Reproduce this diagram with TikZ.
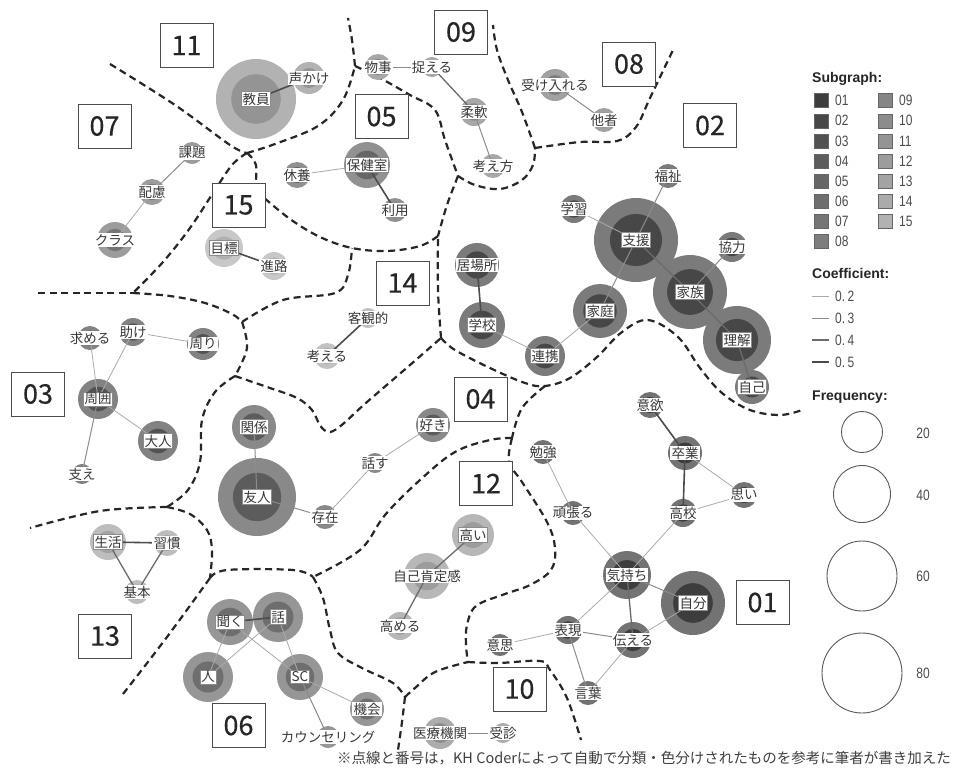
\documentclass[tikz,border=0pt]{standalone}
\usepackage{fontspec}
\setmainfont{Liberation Sans}
\newfontfamily\cjk{Noto Sans CJK JP}
\newfontfamily\numfont[FakeBold=0.4]{Noto Sans CJK JP}
\newfontfamily\narrowf[FakeStretch=0.8]{Liberation Sans}
\pgfdeclarelayer{bgl}
\pgfdeclarelayer{dash}
\pgfdeclarelayer{circ}
\pgfdeclarelayer{lab}
\pgfsetlayers{bgl,dash,circ,main,lab}
\definecolor{sg1}{gray}{0.24}
\definecolor{sg2}{gray}{0.28}
\definecolor{sg3}{gray}{0.32}
\definecolor{sg4}{gray}{0.36}
\definecolor{sg5}{gray}{0.40}
\definecolor{sg6}{gray}{0.43}
\definecolor{sg7}{gray}{0.46}
\definecolor{sg8}{gray}{0.49}
\definecolor{sg9}{gray}{0.52}
\definecolor{sg10}{gray}{0.55}
\definecolor{sg11}{gray}{0.58}
\definecolor{sg12}{gray}{0.61}
\definecolor{sg13}{gray}{0.64}
\definecolor{sg14}{gray}{0.67}
\definecolor{sg15}{gray}{0.70}
\tikzset{
  lbl/.style={font=\cjk\fontsize{13.5}{14}\selectfont, text=black!78, fill=white, inner sep=1.2pt},
  boxed/.style={draw=black!45, line width=0.5pt},
  e2/.style={draw=black!33, line width=0.8pt},
  e3/.style={draw=black!45, line width=1.0pt},
  e4/.style={draw=black!58, line width=1.3pt},
  e5/.style={draw=black!70, line width=1.6pt},
  dline/.style={draw=black!85, line width=2.2pt, dash pattern=on 7pt off 4.5pt},
  numbox/.style={draw=black!70, line width=0.8pt, fill=white, minimum width=53pt, minimum height=44pt, inner sep=0pt, font=\numfont\fontsize{27}{27}\selectfont, text=black!85},
  sq/.style={minimum size=14pt, inner sep=0pt, draw=black!60, line width=0.5pt},
  legh/.style={font=\bfseries\fontsize{14}{14}\selectfont, text=black!85, anchor=west, inner sep=0pt},
  legt/.style={font=\narrowf\fontsize{15}{15}\selectfont, text=black!70, anchor=west, inner sep=0pt},
  fcirc/.style={circle, draw=black!65, line width=0.9pt, inner sep=0pt}
}
\newcommand\kw[7][]{%
  \begin{pgfonlayer}{circ}
    \node[circle, inner sep=0pt, minimum size=#5*2pt, fill=#6!72!white] (#2) at (#3,#4) {};
    \fill[#6] (#2.center) circle[radius=#5*0.62pt];
  \end{pgfonlayer}
  \begin{pgfonlayer}{lab}
    \node[lbl,#1] (#2-t) at (#3,#4) {#7};
  \end{pgfonlayer}}
\begin{document}
\begin{tikzpicture}[x=1pt,y=-1pt]
\begin{pgfonlayer}{bgl}
\fill[white] (0,0) rectangle (956,769);
\end{pgfonlayer}
\useasboundingbox (0,0) rectangle (956,769);

% ---------- junctions of the dashed lines ----------
\coordinate (J1) at (247,153);
\coordinate (J14) at (355,66);
\coordinate (J13) at (458,176);
\coordinate (J12) at (535,148);
\coordinate (J15) at (438,236);
\coordinate (J3) at (352,248);
\coordinate (J2) at (242,322);
\coordinate (J16) at (133,293);
\coordinate (J4) at (441,338);
\coordinate (J5) at (235,376);
\coordinate (J10) at (545,386);
\coordinate (J11) at (512,438);
\coordinate (J6) at (167,507);
\coordinate (J7) at (210,578);
\coordinate (J8) at (313,577);
\coordinate (J17) at (468,662);
\coordinate (J9) at (405,697);

\begin{pgfonlayer}{dash}
\draw[dline] plot[smooth,tension=0.6] coordinates {(110,64) (175,105) (230,145) (J1)};
\draw[dline] plot[smooth,tension=0.6] coordinates {(J1) (275,144) (318,126) (343,100) (J14)};
\draw[dline] plot[smooth,tension=0.6] coordinates {(J14) (352,40) (348,18)};
\draw[dline] plot[smooth,tension=0.6] coordinates {(J14) (380,78) (410,95) (435,110) (445,140) (J13)};
\draw[dline] plot[smooth,tension=0.6] coordinates {(J13) (475,185) (500,189) (522,180) (533,165) (J12)};
\draw[dline] plot[smooth,tension=0.6] coordinates {(J12) (522,112) (508,80) (497,50) (493,25)};
\draw[dline] plot[smooth,tension=0.6] coordinates {(J12) (580,142) (617,141) (636,127) (650,98) (673,50)};
\draw[dline] plot[smooth,tension=0.6] coordinates {(J13) (447,205) (J15)};
\draw[dline] plot[smooth,tension=0.6] coordinates {(J15) (420,246) (387,251) (J3) (320,237) (290,219) (262,196)};
\draw[dline] plot[smooth,tension=0.6] coordinates {(J1) (256,165) (255,190)};
\draw[dline] plot[smooth,tension=0.6] coordinates {(J1) (232,165) (213,193) (190,228) (163,262) (J16)};
\draw[dline] (38,293) -- (J16);
\draw[dline] plot[smooth,tension=0.6] coordinates {(J16) (170,296) (205,303) (232,314) (J2)};
\draw[dline] plot[smooth,tension=0.6] coordinates {(J2) (283,300) (335,293) (348,275) (J3)};
\draw[dline] plot[smooth,tension=0.6] coordinates {(J2) (247,348) (J5)};
\draw[dline] plot[smooth,tension=0.6] coordinates {(J5) (270,388) (297,398) (312,410) (322,428) (335,430) (367,402) (410,365) (J4)};
\draw[dline] plot[smooth,tension=0.6] coordinates {(J4) (438,290) (J15)};
\draw[dline] plot[smooth,tension=0.6] coordinates {(J4) (455,350) (490,368) (525,383) (J10) (570,378) (597,357) (622,332) (648,320) (678,337) (700,368) (722,393) (750,410) (780,415) (802,410)};
\draw[dline] plot[smooth,tension=0.6] coordinates {(J10) (522,408) (J11)};
\draw[dline] plot[smooth,tension=0.6] coordinates {(J11) (509,462) (522,482) (547,522) (555,548) (551,570) (530,585) (505,594) (476,606) (467,625) (466,645) (J17)};
\draw[dline] plot[smooth,tension=0.6] coordinates {(J11) (490,440) (455,452) (420,480) (385,515) (360,550) (J8)};
\draw[dline] plot[smooth,tension=0.6] coordinates {(J5) (215,392) (202,420) (200,462) (188,490) (J6)};
\draw[dline] plot[smooth,tension=0.6] coordinates {(J6) (100,511) (30,528)};
\draw[dline] plot[smooth,tension=0.6] coordinates {(J6) (190,514) (207,530) (212,550) (J7)};
\draw[dline] plot[smooth,tension=0.6] coordinates {(J7) (167,637) (123,694)};
\draw[dline] plot[smooth,tension=0.6] coordinates {(J7) (227,570) (293,570) (J8)};
\draw[dline] plot[smooth,tension=0.6] coordinates {(J8) (323,598) (330,630) (338,653) (362,668) (393,683) (J9)};
\draw[dline] plot[smooth,tension=0.6] coordinates {(J9) (402,722) (398,750)};
\draw[dline] plot[smooth,tension=0.6] coordinates {(J9) (415,688) (435,672) (J17)};
\draw[dline] plot[smooth,tension=0.6] coordinates {(J17) (498,663) (540,661) (550,670) (567,698) (581,740)};
\end{pgfonlayer}

% ---------- number boxes ----------
\begin{pgfonlayer}{lab}
\node[numbox] (b11) at (186.5,45.5) {11};
\node[numbox] (b07) at (104.5,126) {07};
\node[numbox] (b05) at (381.5,116.5) {05};
\node[numbox] (b15) at (238.5,205) {15};
\node[numbox] (b09) at (461,32) {09};
\node[numbox] (b08) at (629,64) {08};
\node[numbox] (b02) at (710,125.5) {02};
\node[numbox] (b14) at (402.5,283) {14};
\node[numbox] (b03) at (38,394) {03};
\node[numbox] (b04) at (480.5,399) {04};
\node[numbox] (b12) at (486,483.5) {12};
\node[numbox] (b13) at (105,636) {13};
\node[numbox] (b06) at (238.5,725.5) {06};
\node[numbox] (b10) at (519.5,689) {10};
\node[numbox] (b01) at (762.5,602.5) {01};
\end{pgfonlayer}

% ---------- word nodes ----------
\kw[boxed]{kyoin}{256}{99}{40}{sg11}{教員}
\kw{koekake}{309}{78}{16}{sg11}{声かけ}
\kw{monogoto}{378}{67}{13}{sg9}{物事}
\kw{toraeru}{432}{67}{10}{sg9}{捉える}
\kw{junan}{474}{112}{14}{sg9}{柔軟}
\kw{kangaekata}{493}{166}{12}{sg9}{考え方}
\kw{ukeireru}{555}{85}{16}{sg8}{受け入れる}
\kw{tasha}{604}{120}{12}{sg8}{他者}
\kw[boxed]{hokenshitsu}{367}{165}{23}{sg5}{保健室}
\kw{kyuyo}{297}{175}{13}{sg5}{休養}
\kw{riyo}{395}{210}{12}{sg5}{利用}
\kw{kadai}{192}{153}{11}{sg7}{課題}
\kw{hairyo}{152}{192}{13}{sg7}{配慮}
\kw{kurasu}{115}{240}{18}{sg7}{クラス}
\kw[boxed]{mokuhyo}{224}{248}{19}{sg15}{目標}
\kw{shinro}{274}{266}{14}{sg15}{進路}
\kw{kyakkan}{368}{318}{10}{sg14}{客観的}
\kw{kangaeru}{327}{356}{13}{sg14}{考える}
\kw{fukushi}{668}{176}{12}{sg2}{福祉}
\kw{gakushu}{574}{209}{14}{sg2}{学習}
\kw[boxed]{shien}{636}{240}{42}{sg2}{支援}
\kw{kyoryoku}{732}{247}{15}{sg2}{協力}
\kw[boxed]{kazoku}{690}{292}{37}{sg2}{家族}
\kw[boxed]{rikai}{737}{340}{34}{sg2}{理解}
\kw[boxed]{katei}{600}{311}{27}{sg2}{家庭}
\kw{ibasho}{477}{265}{22}{sg2}{居場所}
\kw[boxed]{gakko}{482}{325}{23}{sg2}{学校}
\kw[boxed]{renkei}{545}{356}{20}{sg2}{連携}
\kw[boxed]{jiko}{752}{387}{17}{sg2}{自己}
\kw{motomeru}{90}{338}{12}{sg3}{求める}
\kw{tasuke}{133}{332}{14}{sg3}{助け}
\kw{mawari}{203}{344}{16}{sg3}{周り}
\kw[boxed]{shui}{98}{399}{20}{sg3}{周囲}
\kw[boxed]{otona}{158}{441}{20}{sg3}{大人}
\kw{sasae}{82}{474}{10}{sg3}{支え}
\kw[boxed]{kankei}{254}{427}{22}{sg4}{関係}
\kw[boxed]{yujin}{257}{497}{39}{sg4}{友人}
\kw{sonzai}{325}{517}{12}{sg4}{存在}
\kw{hanasu}{375}{463}{10}{sg4}{話す}
\kw{suki}{433}{425}{17}{sg4}{好き}
\kw[boxed]{takai}{473}{535}{21}{sg12}{高い}
\kw{jikokotei}{427}{576}{23}{sg12}{自己肯定感}
\kw{takameru}{400}{626}{14}{sg12}{高める}
\kw[boxed]{seikatsu}{108}{542}{18}{sg13}{生活}
\kw{shukan}{167}{543}{13}{sg13}{習慣}
\kw{kihon}{137}{592}{12}{sg13}{基本}
\kw[boxed]{kiku}{230}{622}{23}{sg6}{聞く}
\kw[boxed]{hanashi}{278}{617}{25}{sg6}{話}
\kw[boxed]{hito}{208}{677}{25}{sg6}{人}
\kw[boxed]{sc}{300}{677}{23}{sg6}{SC}
\kw{kikai}{367}{709}{17}{sg6}{機会}
\kw{counsel}{328}{737}{11}{sg6}{カウンセリング}
\kw{iryo}{440}{733}{16}{sg10}{医療機関}
\kw{jushin}{503}{733}{10}{sg10}{受診}
\kw{iyoku}{650}{405}{13}{sg1}{意欲}
\kw{sotsugyo}{685}{453}{17}{sg1}{卒業}
\kw{omoi}{744}{495}{13}{sg1}{思い}
\kw{benkyo}{543}{452}{12}{sg1}{勉強}
\kw{ganbaru}{573}{513}{12}{sg1}{頑張る}
\kw{koko}{683}{513}{14}{sg1}{高校}
\kw{kimochi}{627}{575}{24}{sg1}{気持ち}
\kw[boxed]{jibun}{693}{603}{32}{sg1}{自分}
\kw{hyogen}{568}{630}{14}{sg1}{表現}
\kw{tsutaeru}{633}{640}{18}{sg1}{伝える}
\kw{ishi}{500}{645}{11}{sg1}{意思}
\kw{kotoba}{588}{693}{12}{sg1}{言葉}

% ---------- connectors ----------
\draw[e5] (kyoin.center) -- (koekake.center);
\draw[e3] (monogoto.center) -- (toraeru.center);
\draw[e4] (toraeru.center) -- (junan.center);
\draw[e3] (junan.center) -- (kangaekata.center);
\draw[e3] (ukeireru.center) -- (tasha.center);
\draw[e2] (kyuyo.center) -- (hokenshitsu.center);
\draw[e5] (hokenshitsu.center) -- (riyo.center);
\draw[e3] (kadai.center) -- (hairyo.center);
\draw[e2] (hairyo.center) -- (kurasu.center);
\draw[e5] (mokuhyo.center) -- (shinro.center);
\draw[e5] (kyakkan.center) -- (kangaeru.center);
\draw[e2] (gakushu.center) -- (shien.center);
\draw[e3] (fukushi.center) -- (shien.center);
\draw[e4] (shien.center) -- (kazoku.center);
\draw[e3] (shien.center) -- (katei.center);
\draw[e3] (kyoryoku.center) -- (kazoku.center);
\draw[e4] (kazoku.center) -- (rikai.center);
\draw[e4] (rikai.center) -- (jiko.center);
\draw[e2] (katei.center) -- (renkei.center);
\draw[e2] (renkei.center) -- (gakko.center);
\draw[e5] (gakko.center) -- (ibasho.center);
\draw[e2] (motomeru.center) -- (shui.center);
\draw[e2] (tasuke.center) -- (shui.center);
\draw[e2] (tasuke.center) -- (mawari.center);
\draw[e2] (shui.center) -- (otona.center);
\draw[e3] (shui.center) -- (sasae.center);
\draw[e3] (kankei.center) -- (yujin.center);
\draw[e3] (yujin.center) -- (sonzai.center);
\draw[e2] (sonzai.center) -- (hanasu.center);
\draw[e2] (hanasu.center) -- (suki.center);
\draw[e4] (takai.center) -- (jikokotei.center);
\draw[e4] (jikokotei.center) -- (takameru.center);
\draw[e5] (seikatsu.center) -- (shukan.center);
\draw[e4] (seikatsu.center) -- (kihon.center);
\draw[e4] (shukan.center) -- (kihon.center);
\draw[e5] (kiku.center) -- (hanashi.center);
\draw[e2] (kiku.center) -- (hito.center);
\draw[e2] (kiku.center) -- (sc.center);
\draw[e2] (hanashi.center) -- (hito.center);
\draw[e2] (hanashi.center) -- (sc.center);
\draw[e2] (sc.center) -- (kikai.center);
\draw[e3] (sc.center) -- (counsel.center);
\draw[e3] (iryo.center) -- (jushin.center);
\draw[e5] (iyoku.center) -- (sotsugyo.center);
\draw[e5] (sotsugyo.center) -- (koko.center);
\draw[e2] (sotsugyo.center) -- (omoi.center);
\draw[e2] (omoi.center) -- (koko.center);
\draw[e2] (benkyo.center) -- (ganbaru.center);
\draw[e2] (ganbaru.center) -- (kimochi.center);
\draw[e2] (koko.center) -- (kimochi.center);
\draw[e3] (kimochi.center) -- (jibun.center);
\draw[e4] (kimochi.center) -- (tsutaeru.center);
\draw[e2] (kimochi.center) -- (hyogen.center);
\draw[e2] (jibun.center) -- (tsutaeru.center);
\draw[e3] (hyogen.center) -- (tsutaeru.center);
\draw[e2] (hyogen.center) -- (ishi.center);
\draw[e3] (hyogen.center) -- (kotoba.center);
\draw[e2] (tsutaeru.center) -- (kotoba.center);

% ---------- legend ----------
\node[legh] (lsub) at (812,79) {Subgraph:};
\foreach \k in {1,...,8} {
  \node[sq, fill=sg\k] (s\k) at (821,100.7+20.1*\k-20.1) {};
  \node[legt] (st\k) at (835,100.7+20.1*\k-20.1) {0\k};
}
\foreach \k/\lab in {9/09,10/10,11/11,12/12,13/13,14/14,15/15} {
  \node[sq, fill=sg\k] (s\k) at (885,100.7+20.1*\k-180.9) {};
  \node[legt] (st\k) at (899,100.7+20.1*\k-180.9) {\lab};
}
\node[legh] (lcoef) at (812,273) {Coefficient:};
\coordinate (ca2) at (812,296); \coordinate (cb2) at (829,296);
\coordinate (ca3) at (812,318); \coordinate (cb3) at (829,318);
\coordinate (ca4) at (812,340); \coordinate (cb4) at (829,340);
\coordinate (ca5) at (812,362); \coordinate (cb5) at (829,362);
\draw[e2] (ca2) -- (cb2); \node[legt] (c2) at (835,296) {0.\,2};
\draw[e3] (ca3) -- (cb3); \node[legt] (c3) at (835,318) {0.\,3};
\draw[e4] (ca4) -- (cb4); \node[legt] (c4) at (835,340) {0.\,4};
\draw[e5] (ca5) -- (cb5); \node[legt] (c5) at (835,362) {0.\,5};
\node[legh] (lfreq) at (812,397) {Frequency:};
\node[fcirc, minimum size=41pt] (f20) at (862,432) {};
\node[fcirc, minimum size=57pt] (f40) at (862,494) {};
\node[fcirc, minimum size=70pt] (f60) at (862,576) {};
\node[fcirc, minimum size=80pt] (f80) at (862,673) {};
\node[legt, anchor=center] (ft20) at (923,433) {20};
\node[legt, anchor=center] (ft40) at (923,495) {40};
\node[legt, anchor=center] (ft60) at (923,576) {60};
\node[legt, anchor=center] (ft80) at (923,673) {80};

% ---------- footnote ----------
\node[anchor=east, inner sep=0pt, font=\cjk\fontsize{14.5}{15}\selectfont, text=black!75] (note) at (951,758) {※点線と番号は，KH Coderによって自動で分類・色分けされたものを参考に筆者が書き加えた};
\end{tikzpicture}
\end{document}
